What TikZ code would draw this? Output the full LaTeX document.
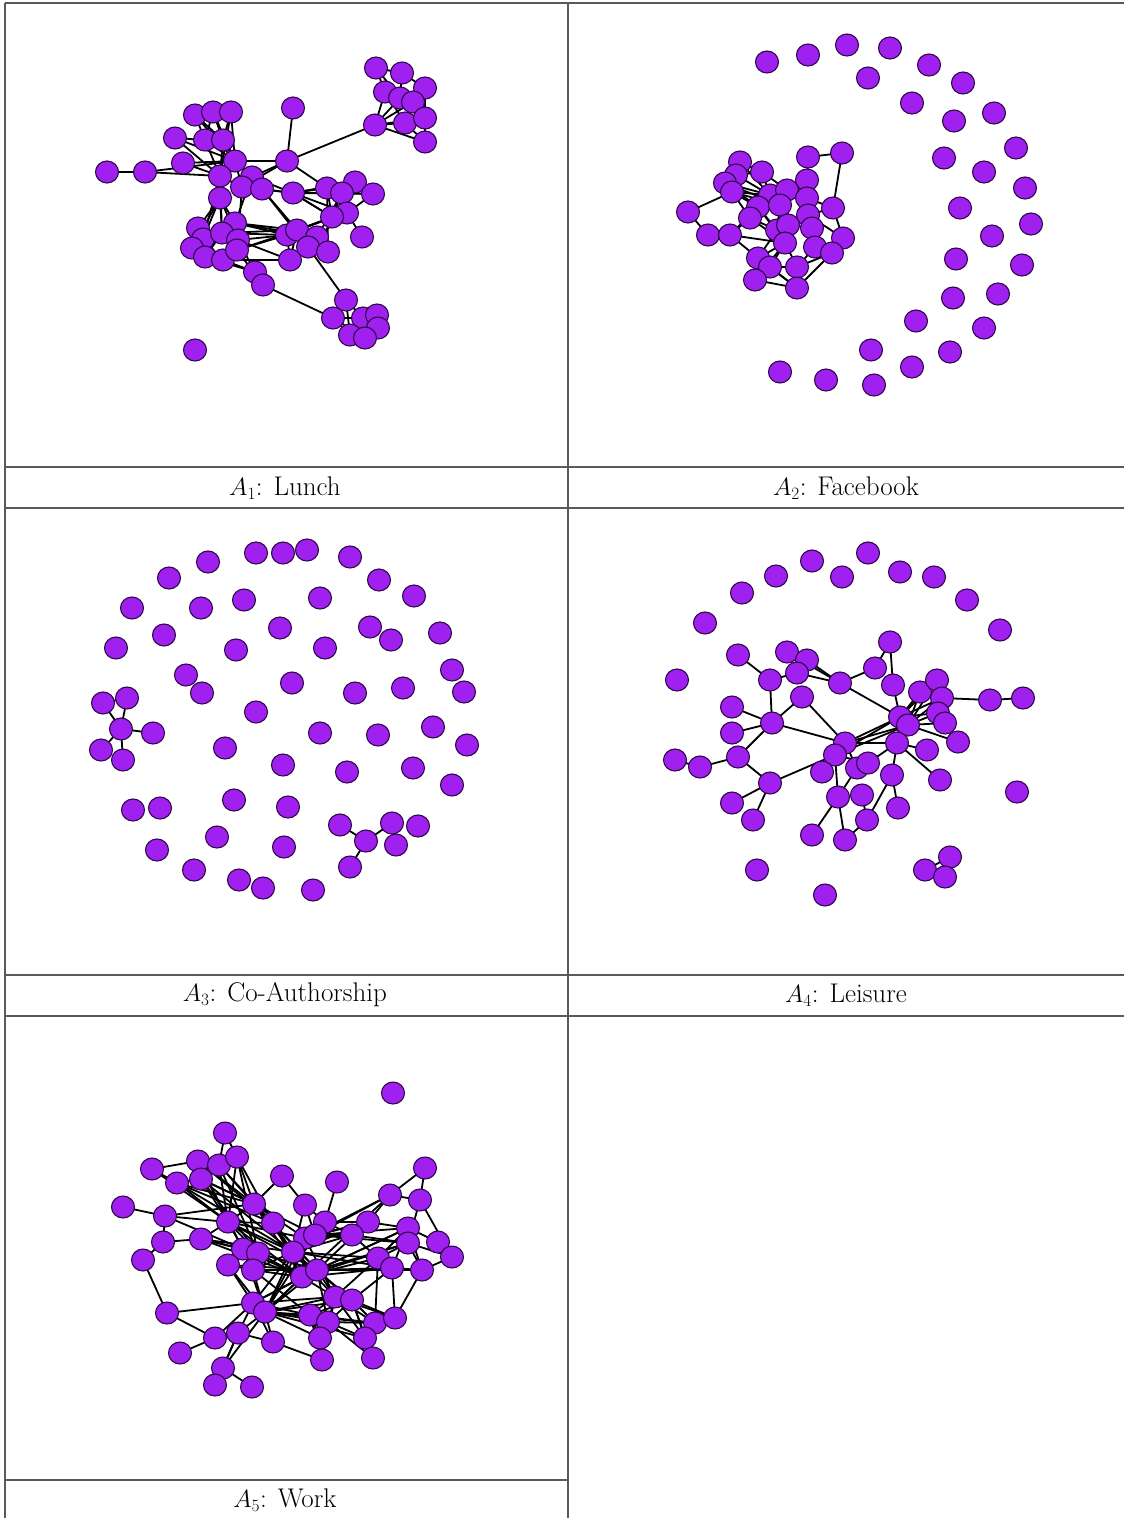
\documentclass[tikz,border=0pt]{standalone}
\usetikzlibrary{shapes.geometric}
\definecolor{vfill}{HTML}{A020F0}
\definecolor{vline}{HTML}{2E0848}
\definecolor{rulecol}{HTML}{5A5A5A}
\pgfdeclarelayer{bg}
\pgfsetlayers{bg,main}
\tikzset{
  vtx/.style={ellipse, fill=vfill, draw=vline, line width=1.1pt, minimum width=23pt, minimum height=22pt, inner sep=0pt},
  edge/.style={black, line width=1.8pt},
  tabrule/.style={rulecol, line width=1.3pt},
  captext/.style={font=\fontsize{27}{32}\selectfont, inner sep=0pt}
}
\begin{document}
\begin{tikzpicture}[x=1pt,y=-1pt]
\useasboundingbox (0,0) rectangle (1124,1518);
% table
\draw[tabrule] (5,3) -- (1124,3);
\draw[tabrule] (5,3) -- (5,1518);
\draw[tabrule] (568,3) -- (568,1518);
\draw[tabrule] (5,467) -- (1124,467);
\draw[tabrule] (5,508) -- (1124,508);
\draw[tabrule] (5,975) -- (1124,975);
\draw[tabrule] (5,1016) -- (1124,1016);
\draw[tabrule] (5,1480) -- (568,1480);
% captions
\node[captext] (c1) at (285,488) {$A_1$: Lunch};
\node[captext] (c2) at (846,488) {$A_2$: Facebook};
\node[captext] (c3) at (285,995) {$A_3$: Co-Authorship};
\node[captext] (c4) at (846,995) {$A_4$: Leisure};
\node[captext] (c5) at (285,1500) {$A_5$: Work};

% ---------- A1 Lunch ----------
\foreach \i/\x/\y in {1/376/68,2/402/73,3/425/88,4/385/92,5/400/98,6/413/102,7/375/125,8/405/123,9/425/118,10/425/142,
11/195/115,12/213/112,13/231/112,14/175/138,15/205/140,16/223/140,17/293/108,18/183/163,19/235/161,20/287/161,
21/107/172,22/145/172,23/220/176,24/252/177,25/242/187,26/262/189,27/220/198,28/293/193,29/327/188,30/355/182,
31/342/193,32/373/194,33/347/213,34/332/217,35/362/237,36/198/228,37/235/223,38/203/239,39/222/233,40/238/240,
41/192/248,42/205/257,43/223/260,44/237/250,45/287/235,46/297/230,47/317/237,48/308/247,49/328/252,50/290/260,
51/255/272,52/263/285,53/346/300,54/333/318,55/363/318,56/377/315,57/378/328,58/350/335,59/365/338,60/195/350}
  \node[vtx] (P\i) at (\x,\y) {};
\begin{pgfonlayer}{bg}
\foreach \a/\b in {1/2,1/4,2/3,2/5,4/5,5/6,3/6,6/9,4/7,5/7,6/7,7/8,7/9,7/10,8/10,9/10,8/9,4/8,3/9,1/5,
21/22,22/23,11/15,12/15,12/16,13/16,11/16,13/19,15/19,16/19,14/19,14/23,18/19,18/23,19/20,20/17,20/7,20/24,
20/25,20/29,19/23,19/24,23/27,24/26,25/26,26/28,28/29,28/31,28/33,29/30,29/31,30/32,31/32,31/33,33/35,34/28,
34/31,33/47,34/45,27/36,27/37,27/39,23/39,25/40,24/37,37/45,39/46,40/45,45/46,46/47,47/48,48/49,45/50,46/50,
49/29,26/48,40/51,43/51,44/52,42/51,48/53,52/54,53/54,53/55,53/58,54/55,54/58,55/56,55/57,56/57,57/59,58/59,
54/59,36/38,38/41,38/39,39/40,41/42,42/43,43/44,40/44,37/44,39/42,36/41,38/43,30/28,26/46,23/38,
28/32,28/30,28/34,29/33,29/34,30/31,32/33,24/28,25/28,15/23,16/23,11/19,12/19,13/23,27/38,27/40,37/46,
44/45,40/50,43/50,37/47,39/45,44/46,31/47,34/46,33/46,36/39,41/43,27/41,19/25,23/25,22/19,14/15}
  \draw[edge] (P\a.center) -- (P\b.center);
\end{pgfonlayer}

% ---------- A2 Facebook ----------
\foreach \i/\x/\y in {1/767/62,2/808/55,3/847/45,4/890/48,5/929/65,6/963/83,7/868/78,8/912/103,9/954/121,10/994/113,
11/1016/148,12/944/158,13/984/172,14/1025/188,15/960/208,16/1031/224,17/992/236,18/956/259,19/1022/265,20/998/294,
21/953/298,22/984/328,23/916/321,24/950/352,25/871/350,26/912/367,27/874/385,28/826/380,29/780/372,
30/740/162,31/762/172,32/736/175,33/725/183,34/732/192,35/808/157,36/842/153,37/807/180,38/770/195,39/787/190,
40/807/198,41/758/207,42/780/205,43/688/212,44/750/218,45/808/215,46/833/208,47/708/235,48/730/235,49/777/230,
50/788/225,51/812/228,52/785/243,53/815/247,54/843/238,55/832/253,56/758/258,57/770/267,58/797/267,59/755/280,60/797/288}
  \node[vtx] (F\i) at (\x,\y) {};
\begin{pgfonlayer}{bg}
\foreach \a/\b in {43/34,43/47,47/48,48/44,48/56,32/31,30/31,31/38,33/38,34/38,34/41,38/39,39/37,37/40,40/45,45/46,
46/54,54/55,55/53,53/51,51/50,50/49,49/42,42/39,42/41,41/44,44/49,49/52,52/57,57/56,56/59,59/60,57/60,58/60,58/53,
58/55,52/58,50/45,51/55,36/46,35/36,38/42,40/51,41/52,37/42,35/40,32/34,33/41,48/41,56/49,60/55,59/52,
30/38,31/39,33/42,34/42,34/44,32/38,37/39,40/46,45/54,41/49,44/52,56/52,57/58,48/52,56/60,30/32,33/34,38/41,39/50,42/50}
  \draw[edge] (F\a.center) -- (F\b.center);
\end{pgfonlayer}

% ---------- A3 Co-Authorship ----------
\foreach \i/\x/\y in {1/169/578,2/208/562,3/256/553,4/283/553,5/307/550,6/350/557,7/379/580,8/414/596,9/132/608,10/201/608,
11/244/600,12/320/598,13/370/627,14/391/640,15/440/633,16/116/648,17/164/635,18/236/650,19/280/628,20/325/648,
21/452/670,22/186/675,23/202/693,24/292/683,25/355/693,26/403/688,27/464/692,28/103/703,29/127/698,30/121/729,
31/153/733,32/101/750,33/123/760,34/256/712,35/320/733,36/378/735,37/433/727,38/467/745,39/225/748,40/283/765,
41/347/772,42/413/768,43/452/785,44/133/810,45/160/808,46/234/800,47/288/807,48/340/825,49/392/823,50/418/826,
51/366/841,52/396/845,53/157/850,54/217/837,55/284/847,56/350/867,57/194/870,58/239/880,59/263/888,60/313/890}
  \node[vtx] (G\i) at (\x,\y) {};
\begin{pgfonlayer}{bg}
\foreach \a/\b in {28/29,28/30,29/30,30/31,30/32,30/33,48/51,51/49,51/56,49/52}
  \draw[edge] (G\a.center) -- (G\b.center);
\end{pgfonlayer}

% ---------- A4 Leisure ----------
\foreach \i/\x/\y in {1/705/623,2/742/593,3/776/576,4/812/561,5/842/577,6/868/553,7/900/572,8/934/577,9/967/600,10/1000/630,
11/890/642,12/738/655,13/787/652,14/807/660,15/797/673,16/770/680,17/840/683,18/875/668,19/893/685,20/677/680,
21/802/697,22/920/692,23/937/680,24/942/698,25/938/713,26/945/723,27/990/700,28/1023/698,29/732/707,30/772/723,
31/900/717,32/908/725,33/732/733,34/845/743,35/897/743,36/835/755,37/927/750,38/958/742,39/675/760,40/700/767,
41/738/757,42/822/772,43/857/768,44/868/763,45/892/775,46/770/783,47/940/780,48/1017/792,49/838/797,50/862/795,
51/732/803,52/753/820,53/898/808,54/867/820,55/812/835,56/845/840,57/757/870,58/825/895,59/950/857,60/925/870,61/945/877}
  \node[vtx] (H\i) at (\x,\y) {};
\begin{pgfonlayer}{bg}
\foreach \a/\b in {12/16,16/15,16/30,13/17,14/17,15/17,21/30,21/34,17/18,18/11,11/19,17/31,19/31,29/30,33/30,30/41,
40/41,39/40,41/46,46/51,46/52,46/36,30/34,34/31,34/32,36/32,36/31,35/32,32/22,32/23,32/24,32/25,32/26,24/27,27/28,
31/35,35/37,35/47,35/44,35/45,45/54,45/53,36/49,43/49,49/55,49/56,50/54,54/56,34/43,32/38,34/42,22/24,23/24,25/26,
59/60,59/61,60/61,14/15,13/14,31/22,31/23,31/24,31/25,34/35,36/44}
  \draw[edge] (H\a.center) -- (H\b.center);
\end{pgfonlayer}

% ---------- A5 Work ----------
\foreach \i/\x/\y in {1/393/1093,2/225/1133,3/152/1169,4/198/1161,5/219/1165,6/237/1157,7/177/1183,8/201/1179,9/282/1176,10/337/1182,
11/425/1168,12/390/1195,13/420/1200,14/123/1207,15/165/1216,16/254/1204,17/305/1205,18/228/1222,19/273/1223,20/325/1222,
21/368/1222,22/408/1228,23/438/1242,24/452/1257,25/163/1242,26/201/1239,27/305/1238,28/315/1235,29/352/1235,30/408/1243,
31/143/1260,32/243/1249,33/258/1253,34/293/1252,35/378/1258,36/392/1268,37/422/1270,38/228/1265,39/253/1270,40/302/1277,
41/317/1270,42/253/1303,43/265/1312,44/335/1297,45/352/1300,46/167/1313,47/310/1315,48/328/1322,49/375/1323,50/395/1318,
51/215/1338,52/238/1333,53/273/1342,54/320/1338,55/365/1338,56/180/1353,57/322/1360,58/373/1358,59/223/1368,60/215/1385,61/252/1387}
  \node[vtx] (W\i) at (\x,\y) {};
\begin{pgfonlayer}{bg}
\foreach \a/\b in {2/5,2/6,3/4,3/7,4/5,4/8,5/6,7/8,18/4,18/5,18/6,18/7,18/8,18/15,18/16,18/26,18/32,18/33,18/3,18/34,
18/40,16/4,16/5,16/6,16/8,16/9,16/19,16/34,16/40,9/17,10/20,17/20,17/28,14/15,15/25,25/31,31/46,46/42,46/51,25/26,
26/32,12/11,12/21,13/30,21/29,29/28,22/23,22/30,23/24,30/37,36/37,35/36,35/29,24/37,18/41,16/41,19/40,33/40,32/41,
34/44,34/45,27/44,28/21,28/12,40/12,41/21,41/22,40/30,44/35,45/36,44/49,45/50,41/48,40/43,43/42,43/53,43/52,43/47,
43/54,42/52,51/52,52/59,59/60,59/61,52/60,47/54,48/55,49/55,49/50,54/57,55/58,43/44,43/45,42/38,38/39,39/43,39/34,
33/39,32/38,26/33,20/29,20/34,17/34,27/40,47/57,48/58,53/57,42/34,43/41,47/45,45/49,44/48,36/50,37/50,35/49,32/43,
38/43,56/51,7/19,8/33,6/19,13/24,11/13,
15/16,15/32,4/32,5/33,6/33,7/34,8/34,7/16,8/16,4/19,5/19,26/34,26/40,18/19,18/27,16/27,16/28,19/41,19/34,32/40,
33/41,39/40,39/41,38/41,42/40,42/41,43/40,43/27,43/28,43/34,42/44,43/48,43/49,43/55,42/47,39/47,40/22,40/36,40/35,
41/30,41/37,41/36,27/21,27/12,27/29,28/22,28/30,34/21,34/29,34/35,34/36,40/44,41/44,41/45,44/45,35/22,35/30,36/22,
20/21,21/22,44/50,45/55,44/55,44/47,48/49,45/48,47/49,45/58,44/57,42/53,43/59,42/51,52/53,22/37,30/24,29/30,12/13}
  \draw[edge] (W\a.center) -- (W\b.center);
\end{pgfonlayer}
\end{tikzpicture}
\end{document}
